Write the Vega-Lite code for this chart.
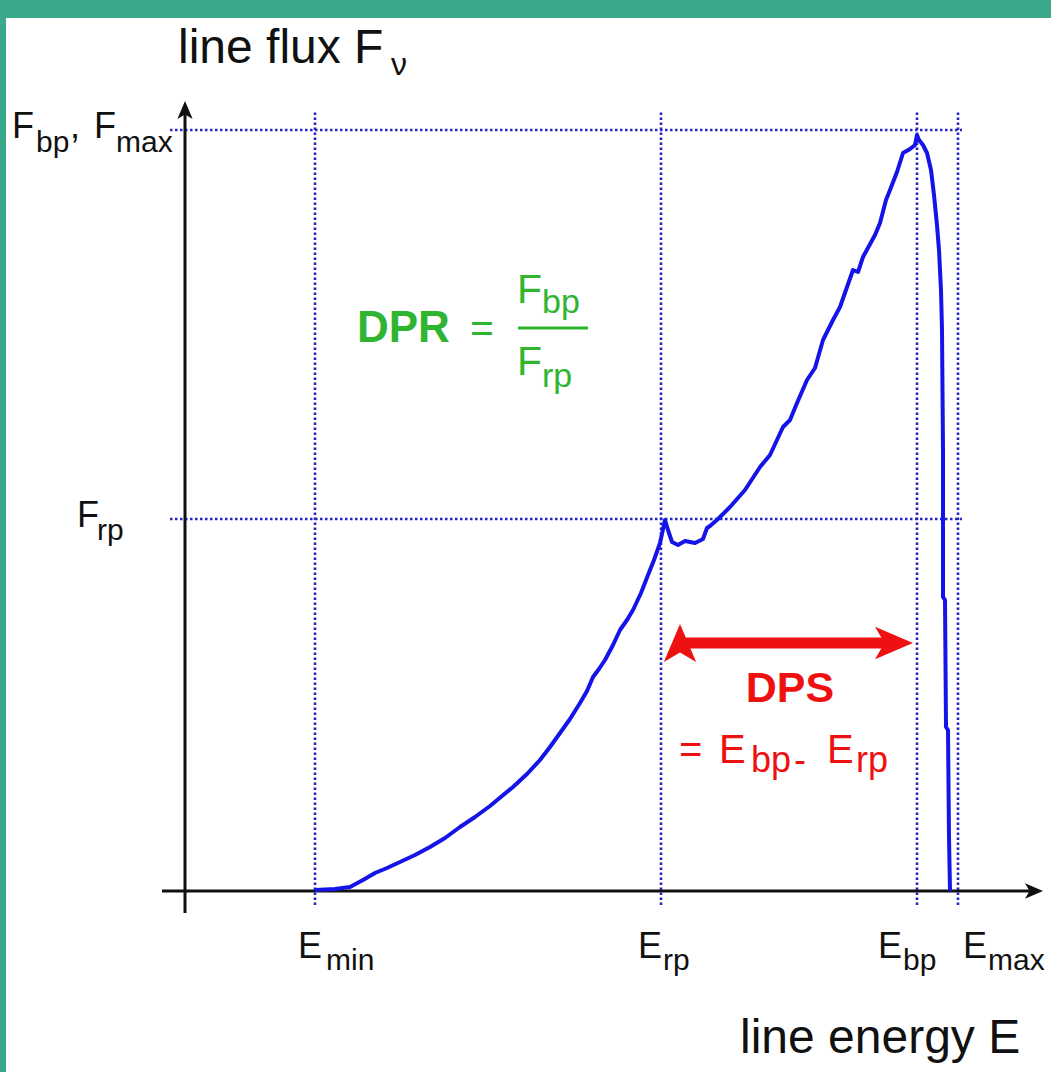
{
  "$schema": "https://vega.github.io/schema/vega-lite/v6.json",
  "width": 1051,
  "height": 1072,
  "autosize": {"type": "fit", "contains": "padding"},
  "padding": 0,
  "background": "#3aa88a",
  "config": {"view": {"stroke": null}, "text": {"font": "Liberation Sans", "align": "left", "baseline": "alphabetic"}},
  "datasets": {
    "bg": [{"e": -1.79, "f": 8.73, "e2": 8.66, "f2": -1.81}],
    "guides": [
      {"e": -0.15, "f": 7.61, "e2": 7.77, "f2": 7.61},
      {"e": -0.15, "f": 3.72, "e2": 7.77, "f2": 3.72},
      {"e": 1.30, "f": -0.14, "e2": 1.30, "f2": 7.79},
      {"e": 4.76, "f": -0.14, "e2": 4.76, "f2": 7.79},
      {"e": 7.32, "f": -0.14, "e2": 7.32, "f2": 7.79},
      {"e": 7.73, "f": -0.14, "e2": 7.73, "f2": 7.79}
    ],
    "spectrum": [
      {"i": 1, "e": 1.30, "f": 0.01}, {"i": 2, "e": 1.50, "f": 0.02}, {"i": 3, "e": 1.65, "f": 0.04},
      {"i": 4, "e": 1.78, "f": 0.11}, {"i": 5, "e": 1.90, "f": 0.18}, {"i": 6, "e": 2.02, "f": 0.23},
      {"i": 7, "e": 2.15, "f": 0.29}, {"i": 8, "e": 2.30, "f": 0.36}, {"i": 9, "e": 2.45, "f": 0.44},
      {"i": 10, "e": 2.60, "f": 0.53}, {"i": 11, "e": 2.75, "f": 0.64}, {"i": 12, "e": 2.90, "f": 0.74},
      {"i": 13, "e": 3.05, "f": 0.85}, {"i": 14, "e": 3.17, "f": 0.95}, {"i": 15, "e": 3.28, "f": 1.04},
      {"i": 16, "e": 3.42, "f": 1.17}, {"i": 17, "e": 3.55, "f": 1.31}, {"i": 18, "e": 3.65, "f": 1.44},
      {"i": 19, "e": 3.75, "f": 1.58}, {"i": 20, "e": 3.85, "f": 1.72}, {"i": 21, "e": 3.95, "f": 1.88},
      {"i": 22, "e": 4.02, "f": 2.00}, {"i": 23, "e": 4.08, "f": 2.14}, {"i": 24, "e": 4.14, "f": 2.22},
      {"i": 25, "e": 4.20, "f": 2.31}, {"i": 26, "e": 4.28, "f": 2.46}, {"i": 27, "e": 4.35, "f": 2.61},
      {"i": 28, "e": 4.42, "f": 2.71}, {"i": 29, "e": 4.48, "f": 2.81}, {"i": 30, "e": 4.56, "f": 2.98},
      {"i": 31, "e": 4.63, "f": 3.16}, {"i": 32, "e": 4.69, "f": 3.31}, {"i": 33, "e": 4.75, "f": 3.48},
      {"i": 34, "e": 4.80, "f": 3.71}, {"i": 35, "e": 4.83, "f": 3.61}, {"i": 36, "e": 4.87, "f": 3.49},
      {"i": 37, "e": 4.93, "f": 3.46}, {"i": 38, "e": 5.00, "f": 3.50}, {"i": 39, "e": 5.10, "f": 3.48},
      {"i": 40, "e": 5.18, "f": 3.52}, {"i": 41, "e": 5.22, "f": 3.63}, {"i": 42, "e": 5.25, "f": 3.65},
      {"i": 43, "e": 5.33, "f": 3.72}, {"i": 44, "e": 5.45, "f": 3.84}, {"i": 45, "e": 5.60, "f": 4.01},
      {"i": 46, "e": 5.75, "f": 4.24}, {"i": 47, "e": 5.85, "f": 4.36}, {"i": 48, "e": 5.98, "f": 4.64},
      {"i": 49, "e": 6.05, "f": 4.71}, {"i": 50, "e": 6.12, "f": 4.88}, {"i": 51, "e": 6.22, "f": 5.11},
      {"i": 52, "e": 6.30, "f": 5.23}, {"i": 53, "e": 6.38, "f": 5.51}, {"i": 54, "e": 6.48, "f": 5.71},
      {"i": 55, "e": 6.55, "f": 5.84}, {"i": 56, "e": 6.68, "f": 6.21}, {"i": 57, "e": 6.73, "f": 6.19},
      {"i": 58, "e": 6.78, "f": 6.34}, {"i": 59, "e": 6.90, "f": 6.56}, {"i": 60, "e": 6.95, "f": 6.68},
      {"i": 61, "e": 7.01, "f": 6.91}, {"i": 62, "e": 7.05, "f": 7.01}, {"i": 63, "e": 7.12, "f": 7.19},
      {"i": 64, "e": 7.18, "f": 7.38}, {"i": 65, "e": 7.25, "f": 7.42}, {"i": 66, "e": 7.30, "f": 7.46},
      {"i": 67, "e": 7.32, "f": 7.56}, {"i": 68, "e": 7.34, "f": 7.51}, {"i": 69, "e": 7.38, "f": 7.46},
      {"i": 70, "e": 7.42, "f": 7.38}, {"i": 71, "e": 7.46, "f": 7.21}, {"i": 72, "e": 7.49, "f": 6.96},
      {"i": 73, "e": 7.52, "f": 6.66}, {"i": 74, "e": 7.54, "f": 6.41}, {"i": 75, "e": 7.56, "f": 6.01},
      {"i": 76, "e": 7.57, "f": 5.61}, {"i": 77, "e": 7.58, "f": 4.41}, {"i": 78, "e": 7.58, "f": 2.94},
      {"i": 79, "e": 7.60, "f": 2.91}, {"i": 80, "e": 7.61, "f": 1.64}, {"i": 81, "e": 7.63, "f": 1.61},
      {"i": 82, "e": 7.64, "f": 0.54}, {"i": 83, "e": 7.65, "f": 0.00}
    ],
    "axes": [
      {"e": 0, "f": -0.22, "e2": 0, "f2": 7.85},
      {"e": -0.23, "f": 0, "e2": 8.45, "f2": 0}
    ],
    "axisHeads": [
      {"e": 0, "f": 7.81, "dir": "up"},
      {"e": 8.49, "f": 0, "dir": "right"}
    ],
    "dpsShaft": [{"e": 4.96, "e2": 7.09, "f": 2.48}],
    "dpsHeads": [
      {"e": 4.95, "f": 2.48, "dir": "left"},
      {"e": 7.09, "f": 2.48, "dir": "right"}
    ],
    "title": [
      {"e": -0.07, "f": 8.28, "t": "line flux F"},
      {"e": 5.55, "f": -1.62, "t": "line energy E"}
    ],
    "titleSub": [{"e": 2.06, "f": 8.16, "t": "ν"}],
    "blackMain": [
      {"e": -1.73, "f": 7.53, "t": "F"},
      {"e": -1.15, "f": 7.53, "t": ","},
      {"e": -0.91, "f": 7.53, "t": "F"},
      {"e": -1.08, "f": 3.64, "t": "F"},
      {"e": 1.13, "f": -0.67, "t": "E"},
      {"e": 4.53, "f": -0.67, "t": "E"},
      {"e": 6.93, "f": -0.67, "t": "E"},
      {"e": 7.78, "f": -0.67, "t": "E"}
    ],
    "blackSub": [
      {"e": -1.49, "f": 7.39, "t": "bp"},
      {"e": -0.69, "f": 7.39, "t": "max"},
      {"e": -0.88, "f": 3.51, "t": "rp"},
      {"e": 1.41, "f": -0.79, "t": "min"},
      {"e": 4.78, "f": -0.79, "t": "rp"},
      {"e": 7.18, "f": -0.79, "t": "bp"},
      {"e": 8.03, "f": -0.79, "t": "max"}
    ],
    "greenBold": [{"e": 1.72, "f": 5.49, "t": "DPR"}],
    "greenMain": [
      {"e": 2.85, "f": 5.49, "t": "="},
      {"e": 3.32, "f": 5.88, "t": "F"},
      {"e": 3.32, "f": 5.16, "t": "F"}
    ],
    "greenSub": [
      {"e": 3.57, "f": 5.78, "t": "bp"},
      {"e": 3.57, "f": 5.04, "t": "rp"}
    ],
    "greenBar": [{"e": 3.33, "e2": 4.03, "f": 5.63}],
    "redBold": [{"e": 6.05, "f": 1.89, "t": "DPS"}],
    "redMain": [
      {"e": 4.94, "f": 1.28, "t": "="},
      {"e": 5.34, "f": 1.28, "t": "E"},
      {"e": 6.42, "f": 1.28, "t": "E"}
    ],
    "redSub": [
      {"e": 5.66, "f": 1.19, "t": "bp"},
      {"e": 6.09, "f": 1.19, "t": "-"},
      {"e": 6.71, "f": 1.19, "t": "rp"}
    ]
  },
  "encoding": {
    "x": {"field": "e", "type": "quantitative", "scale": {"domain": [-1.85, 8.66], "nice": false, "zero": false}, "axis": null},
    "y": {"field": "f", "type": "quantitative", "scale": {"domain": [-1.81, 8.91], "nice": false, "zero": false}, "axis": null}
  },
  "layer": [
    {
      "data": {"name": "bg"},
      "mark": {"type": "rect", "fill": "#ffffff"},
      "encoding": {"x2": {"field": "e2"}, "y2": {"field": "f2"}}
    },
    {
      "data": {"name": "guides"},
      "mark": {"type": "rule", "color": "#2626c8", "strokeWidth": 2.6, "strokeDash": [2.5, 2.5]},
      "encoding": {"x2": {"field": "e2"}, "y2": {"field": "f2"}}
    },
    {
      "data": {"name": "axes"},
      "mark": {"type": "rule", "color": "#111111", "strokeWidth": 3},
      "encoding": {"x2": {"field": "e2"}, "y2": {"field": "f2"}}
    },
    {
      "data": {"name": "axisHeads"},
      "mark": {"type": "point", "filled": true, "color": "#111111", "opacity": 1, "size": 324},
      "encoding": {
        "shape": {"field": "dir", "type": "nominal", "legend": null,
          "scale": {"domain": ["up", "right"], "range": ["M0,-1L0.85,1L0,0.5L-0.85,1Z", "M1,0L-1,0.85L-0.5,0L-1,-0.85Z"]}}
      }
    },
    {
      "data": {"name": "spectrum"},
      "mark": {"type": "line", "color": "#1414e8", "strokeWidth": 4, "strokeJoin": "round"},
      "encoding": {"order": {"field": "i", "type": "quantitative"}}
    },
    {
      "data": {"name": "dpsShaft"},
      "mark": {"type": "rule", "color": "#ee1111", "strokeWidth": 11},
      "encoding": {"x2": {"field": "e2"}}
    },
    {
      "data": {"name": "dpsHeads"},
      "mark": {"type": "point", "filled": true, "color": "#ee1111", "opacity": 1, "size": 1444},
      "encoding": {
        "shape": {"field": "dir", "type": "nominal", "legend": null,
          "scale": {"domain": ["left", "right"], "range": ["M-1,0L1,-1L0.6,0L1,1Z", "M1,0L-1,-1L-0.6,0L-1,1Z"]}}
      }
    },
    {
      "data": {"name": "title"},
      "mark": {"type": "text", "fontSize": 48, "color": "#111111"},
      "encoding": {"text": {"field": "t"}}
    },
    {
      "data": {"name": "titleSub"},
      "mark": {"type": "text", "fontSize": 32, "color": "#111111"},
      "encoding": {"text": {"field": "t"}}
    },
    {
      "data": {"name": "blackMain"},
      "mark": {"type": "text", "fontSize": 36, "color": "#111111"},
      "encoding": {"text": {"field": "t"}}
    },
    {
      "data": {"name": "blackSub"},
      "mark": {"type": "text", "fontSize": 30, "color": "#111111"},
      "encoding": {"text": {"field": "t"}}
    },
    {
      "data": {"name": "greenBold"},
      "mark": {"type": "text", "fontSize": 44, "fontWeight": "bold", "color": "#2fb52f"},
      "encoding": {"text": {"field": "t"}}
    },
    {
      "data": {"name": "greenMain"},
      "mark": {"type": "text", "fontSize": 41, "color": "#2fb52f"},
      "encoding": {"text": {"field": "t"}}
    },
    {
      "data": {"name": "greenSub"},
      "mark": {"type": "text", "fontSize": 34, "color": "#2fb52f"},
      "encoding": {"text": {"field": "t"}}
    },
    {
      "data": {"name": "greenBar"},
      "mark": {"type": "rule", "color": "#2fb52f", "strokeWidth": 3},
      "encoding": {"x2": {"field": "e2"}}
    },
    {
      "data": {"name": "redBold"},
      "mark": {"type": "text", "fontSize": 43, "fontWeight": "bold", "color": "#ee1111", "align": "center"},
      "encoding": {"text": {"field": "t"}}
    },
    {
      "data": {"name": "redMain"},
      "mark": {"type": "text", "fontSize": 40, "color": "#ee1111"},
      "encoding": {"text": {"field": "t"}}
    },
    {
      "data": {"name": "redSub"},
      "mark": {"type": "text", "fontSize": 36, "color": "#ee1111"},
      "encoding": {"text": {"field": "t"}}
    }
  ]
}
